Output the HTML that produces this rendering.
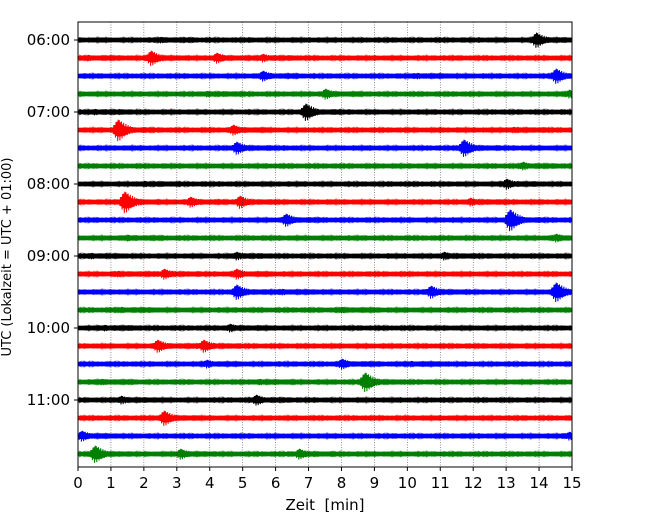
<!DOCTYPE html>
<html><head><meta charset="utf-8"><style>
body{margin:0;background:#fff;}
svg text{font-family:"DejaVu Sans","Liberation Sans",sans-serif;}
</style></head><body>
<svg id="chart" width="650" height="520" xmlns="http://www.w3.org/2000/svg">
<defs><clipPath id="pc"><rect x="78" y="22" width="494" height="445"/></clipPath></defs>
<g id="plot" clip-path="url(#pc)"></g>
</svg>
<script>
// ---- data ----
const xTicks = [0,1,2,3,4,5,6,7,8,9,10,11,12,13,14,15];
const yTickLabels = ["06:00","07:00","08:00","09:00","10:00","11:00"];
const rowCount = 24;
const rowColors = ["#000000","#ff0000","#0000ff","#008000"];
// events per row: [minute, amplitude(px half-height)]
const events = [
 [[13.9,7],[2.5,3]],
 [[2.2,7],[4.2,5],[5.6,4],[0.3,3]],
 [[5.6,5],[14.5,7],[10.3,3]],
 [[7.5,5],[3.9,3],[14.9,4]],
 [[6.9,8],[0.5,3]],
 [[1.2,10],[4.7,5],[13.2,3]],
 [[4.8,6],[11.7,8]],
 [[13.5,4]],
 [[13.0,5],[2.0,3]],
 [[1.4,10],[3.4,5],[4.9,6],[11.9,4]],
 [[6.3,6],[13.1,10]],
 [[1.5,3],[14.5,4]],
 [[4.8,4],[11.1,4],[0.4,3]],
 [[2.6,5],[4.8,5],[1.2,3]],
 [[4.8,7],[10.7,6],[14.5,9],[6.2,3]],
 [[1.3,3],[8.0,3]],
 [[4.6,4],[0.8,3]],
 [[2.4,6],[3.8,6]],
 [[3.9,4],[8.0,5],[10.1,3]],
 [[8.7,9],[5.5,3],[0.7,3]],
 [[1.3,4],[5.4,5]],
 [[2.6,7]],
 [[0.1,5],[14.9,4]],
 [[0.5,8],[3.1,5],[6.7,5]]
];
// ---- layout ----
const L=78,R=572,T=22,B=467;
const xs=m=>L+(R-L)*m/15;
const ys=r=>40+r*18;
const NS="http://www.w3.org/2000/svg";
const svg=document.getElementById('chart');
const plot=document.getElementById('plot');
function mk(tag,attrs,parent){const e=document.createElementNS(NS,tag);for(const k in attrs)e.setAttribute(k,attrs[k]);(parent||svg).appendChild(e);return e;}
// traces
for(let r=0;r<rowCount;r++){
  const c=rowColors[r%4], y=ys(r);
  const band=mk('rect',{x:L,y:y-2.2,width:R-L,height:4.4,fill:c},plot);
  
  
  let nd='';
  for(let x=L;x<R;x+=1.3){const h=2.4+1.0*Math.abs(Math.sin(x*0.37+r)*Math.sin(x*0.11+r*2));nd+='M'+x.toFixed(1)+' '+(y-h).toFixed(1)+'V'+(y+h).toFixed(1);}
  const nz=mk('path',{d:nd,stroke:c,'stroke-width':0.7,fill:'none'},plot);
  
  
  events[r].forEach(ev=>{
    const x0=xs(ev[0]),a=ev[1]*1.2;let d='';
    const n=80;
    for(let i=0;i<n;i++){
      const x=x0-7+i*0.55;
      const env=a*(i<14?i/14:Math.exp(-(i-14)/20));
      const h=Math.max(2.4,env*(0.55+0.45*Math.abs(Math.sin(i*2.3))));
      d+=(i?'L':'M')+x.toFixed(1)+' '+((i%2?y+h:y-h)).toFixed(1);
    }
    const p=mk('path',{d:d,stroke:c,'stroke-width':1,fill:'none'},plot);
    
    
  });
}
// grid
xTicks.forEach(t=>{
  if(t>0&&t<15){const g=mk('line',{x1:xs(t),x2:xs(t),y1:T,y2:B,stroke:'#000','stroke-width':0.6,'stroke-dasharray':'1,1.5','stroke-opacity':0.7});
  
  }
});
// frame
const fr=mk('rect',{x:L,y:T,width:R-L,height:B-T,fill:'none',stroke:'#000','stroke-width':1});


// x ticks
xTicks.forEach(t=>{
  mk('line',{x1:xs(t),x2:xs(t),y1:B,y2:B+4,stroke:'#000'});
  const tx=mk('text',{x:xs(t),y:B+21,'text-anchor':'middle','font-size':15});
  tx.textContent=t;
  
  
});
// y ticks
yTickLabels.forEach((s,i)=>{
  const y=ys(i*4);
  mk('line',{x1:L-4,x2:L,y1:y,y2:y,stroke:'#000'});
  const tx=mk('text',{x:L-8,y:y+5,'text-anchor':'end','font-size':15});
  tx.textContent=s;
  
  
});
const xl=mk('text',{x:(L+R)/2,y:510,'text-anchor':'middle','font-size':15});
xl.textContent='Zeit\u00a0 [min]';


const yl=mk('text',{x:0,y:0,'text-anchor':'middle','font-size':13,transform:'translate(11,257) rotate(-90)'});
yl.textContent='UTC (Lokalzeit = UTC + 01:00)';


</script>
</body></html>
